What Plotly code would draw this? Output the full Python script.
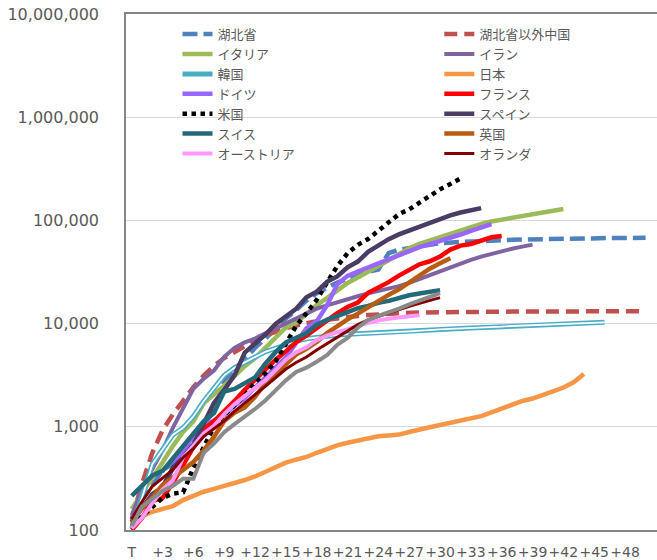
import plotly.graph_objects as go

# x axis: days since each region's starting day (T)
day_tickvals = [0, 3, 6, 9, 12, 15, 18, 21, 24, 27, 30, 33, 36, 39, 42, 45, 48]
day_ticktext = ["T", "+3", "+6", "+9", "+12", "+15", "+18", "+21", "+24", "+27",
                "+30", "+33", "+36", "+39", "+42", "+45", "+48"]

# y axis: cumulative confirmed cases (log scale)
case_tickvals = [100, 1000, 10000, 100000, 1000000, 10000000]
case_ticktext = ["100", "1,000", "10,000", "100,000", "1,000,000", "10,000,000"]

# cumulative confirmed cases per day, starting at T
hubei = [120, 200, 270, 380, 440, 550, 730, 1050, 1420, 2710, 3550, 4590, 5810, 7150,
         9070, 11180, 13520, 16680, 19670, 22110, 24950, 27100, 29630, 31730, 33370,
         48210, 51990, 54410, 56250, 58180, 59990, 61680, 62030, 62440, 62660, 64080,
         64290, 64790, 65190, 65600, 65910, 66340, 66910, 67100, 67220, 67330, 67470,
         67590, 67670, 67710, 67740]
china_ex_hubei = [127, 281, 558, 923, 1320, 1800, 2420, 3130, 3890, 4640, 5310, 6030,
                  6920, 7650, 8350, 9050, 9590, 10100, 10540, 10910, 11290, 11600, 11870,
                  12090, 12300, 12480, 12620, 12740, 12810, 12870, 12920, 12960, 12990,
                  13010, 13030, 13050, 13060, 13070, 13080, 13090, 13100, 13110, 13120,
                  13130, 13140, 13150, 13160, 13170, 13180, 13190, 13200]
italy = [160, 230, 320, 450, 650, 890, 1130, 1690, 2040, 2500, 3090, 3860, 4640, 5880,
         7380, 9170, 10150, 12460, 15110, 17660, 21160, 24750, 27980, 31510, 35710,
         41040, 47020, 53580, 59140, 63930, 69180, 74390, 80590, 86500, 92470, 97690,
         101740, 105790, 110570, 115240, 119830, 124630, 128950]
iran = [139, 245, 388, 593, 978, 1500, 2340, 2920, 3510, 4750, 5820, 6570, 7160, 8040,
        9000, 10080, 11360, 12730, 13940, 14990, 16170, 17360, 18410, 19640, 20610,
        21640, 23050, 24810, 27020, 29410, 32330, 35410, 38310, 41500, 44610, 47590,
        50470, 53180, 55740, 58230]
korea = [104, 204, 433, 602, 833, 977, 1260, 1770, 2340, 3150, 3740, 4210, 4810, 5330,
         5770, 6280, 6770, 7130, 7380, 7510, 7760, 7870, 7980, 8090, 8160, 8240, 8320,
         8410, 8570, 8650, 8800, 8900, 8960, 9040, 9140, 9240, 9330, 9480, 9580, 9660,
         9790, 9890, 9980, 10060, 10160, 10240, 10280]
japan = [110, 135, 150, 160, 170, 195, 215, 235, 250, 265, 285, 305, 330, 365, 410, 450,
         480, 510, 560, 610, 660, 700, 740, 780, 810, 825, 840, 890, 950, 990, 1040,
         1090, 1130, 1190, 1270, 1380, 1500, 1640, 1780, 1880, 2020, 2200, 2400, 2700,
         3250]
germany = [130, 160, 200, 260, 400, 600, 800, 1000, 1150, 1300, 1600, 1900, 2400, 3000,
           3700, 4700, 6500, 9000, 10500, 15000, 24000, 29000, 32000, 35000, 39000,
           43000, 47000, 51000, 55000, 59000, 63000, 67000, 73000, 79000, 86000, 92000]
france = [100, 130, 191, 204, 285, 423, 613, 949, 1130, 1410, 1780, 2280, 2880, 3660,
          4470, 5380, 6630, 7650, 9040, 10870, 12610, 14460, 16020, 19860, 22300, 25230,
          29160, 32960, 37580, 40170, 44550, 52130, 56990, 59110, 64340, 68610, 70480]
usa = [110, 134, 165, 205, 225, 232, 400, 640, 1000, 1300, 1600, 2000, 2700, 3300, 4300,
       6500, 9500, 12600, 17000, 25000, 36000, 48000, 58000, 66000, 80000, 96000,
       115000, 128000, 150000, 172000, 200000, 225000, 255000]
spain = [120, 165, 222, 259, 400, 500, 673, 1070, 1700, 2280, 3150, 5230, 6390, 7800,
         9940, 11750, 13910, 17960, 20410, 25370, 28600, 35140, 39890, 49520, 57790,
         65720, 73240, 80110, 87960, 95920, 104120, 112070, 119200, 126170, 131650]
switzerland = [214, 268, 337, 374, 491, 652, 858, 1130, 1360, 2200, 2330, 2650, 3010,
               4080, 5290, 6580, 7250, 8060, 9770, 10900, 11810, 12930, 14080, 14830,
               15920, 16610, 17770, 18830, 19610, 20510, 21100]
uk = [116, 164, 207, 273, 322, 382, 456, 590, 798, 1140, 1370, 1540, 1950, 2630, 3270,
      3980, 5020, 5680, 6650, 8080, 9530, 11000, 12500, 14500, 16500, 19000, 21500,
      25000, 29500, 34000, 38500, 43000]
austria = [104, 131, 182, 246, 302, 504, 655, 860, 1020, 1330, 1650, 2010, 2390, 2810,
           3580, 4470, 5280, 5890, 6910, 7660, 8270, 8790, 9620, 10180, 10710, 11130,
           11520, 11780, 12050]
netherlands = [128, 188, 265, 321, 382, 503, 614, 804, 959, 1140, 1410, 1710, 2050,
               2460, 2990, 3630, 4200, 4750, 5560, 6410, 7430, 8600, 9760, 10870, 11750,
               12600, 13610, 14700, 15720, 16630, 17850]
belgium = [109, 169, 200, 239, 267, 314, 314, 559, 689, 886, 1060, 1240, 1490, 1800,
           2260, 2820, 3400, 3740, 4270, 4940, 6240, 7280, 9130, 10840, 11900, 12780,
           13960, 15350, 16770, 18430, 19690]

# (legend name, values, colour, width, dash, legend column)
series = [
    ("湖北省", hubei, "#4f81bd", 4.5, "15px,6px", "legend"),
    ("湖北省以外中国", china_ex_hubei, "#c0504d", 4.5, "13px,7px", "legend2"),
    ("イタリア", italy, "#9bbb59", 4.5, None, "legend"),
    ("イラン", iran, "#8064a2", 4, None, "legend2"),
    ("韓国", korea, "#4bacc6", 5, None, "legend"),
    ("日本", japan, "#f79646", 4.5, None, "legend2"),
    ("ドイツ", germany, "#9966ff", 4.5, None, "legend"),
    ("フランス", france, "#ff0000", 4.5, None, "legend2"),
    ("米国", usa, "#000000", 4.5, "4.5px,4.5px", "legend"),
    ("スペイン", spain, "#4a3c64", 4.5, None, "legend2"),
    ("スイス", switzerland, "#24697a", 4.5, None, "legend"),
    ("英国", uk, "#b95b10", 4.5, None, "legend2"),
    ("オーストリア", austria, "#ff99ff", 4, None, "legend"),
    ("オランダ", netherlands, "#800000", 3, None, "legend2"),
]

fig = go.Figure()
for name, vals, color, width, dash, legend_id in series:
    line = dict(color=color, width=width)
    if dash:
        line["dash"] = dash
    fig.add_trace(go.Scatter(x=list(range(len(vals))), y=vals, mode="lines",
                             name=name, line=line, legendgroup=name, legend=legend_id))
    if name == "韓国":
        # white core turns the Korea line into a double line
        fig.add_trace(go.Scatter(x=list(range(len(vals))), y=vals, mode="lines",
                                 line=dict(color="white", width=1.8),
                                 showlegend=False, legendgroup=name, hoverinfo="skip"))

fig.add_trace(go.Scatter(x=list(range(len(belgium))), y=belgium, mode="lines",
                         name="ベルギー", line=dict(color="#8a8a8a", width=4),
                         showlegend=False))

# white panel behind the legend (hides the upper gridline)
fig.add_shape(type="rect", xref="paper", yref="paper", x0=0.002, x1=0.985,
              y0=0.713, y1=0.997, fillcolor="white", line_width=0, layer="between")

legend_font = dict(family="Noto Sans CJK JP", size=13, color="#595959")
legend_common = dict(orientation="v", y=0.99, yanchor="top", xanchor="left",
                     bgcolor="rgba(0,0,0,0)", font=legend_font, tracegroupgap=0,
                     itemwidth=30)

fig.update_layout(
    width=657, height=560,
    margin=dict(l=126, r=0, t=14, b=30),
    paper_bgcolor="white", plot_bgcolor="white",
    font=dict(family="DejaVu Sans", color="#595959"),
    showlegend=True,
    legend=dict(x=0.097, **legend_common),
    legend2=dict(x=0.59, **legend_common),
    xaxis=dict(range=[-0.555, 51.11], tickvals=day_tickvals, ticktext=day_ticktext,
               tickangle=0, showgrid=False, zeroline=False, showline=True,
               linecolor="#868686", linewidth=1.5, mirror=True, ticks="",
               ticklabelstandoff=8,
               tickfont=dict(family="DejaVu Sans", size=14, color="#595959")),
    yaxis=dict(type="log", range=[2, 7], tickvals=case_tickvals, ticktext=case_ticktext,
               showgrid=True, gridcolor="#d9d9d9", gridwidth=1, zeroline=False,
               showline=True, linecolor="#868686", linewidth=1.5, ticks="",
               ticklabelstandoff=22,
               tickfont=dict(family="DejaVu Sans", size=16, color="#595959")),
)

fig.write_html("out.html")
